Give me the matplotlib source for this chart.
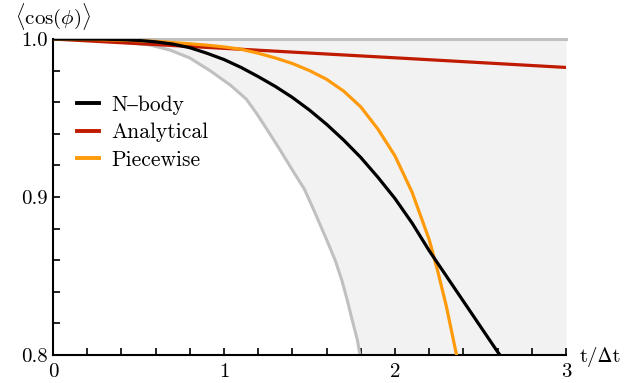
import numpy as np
import matplotlib
matplotlib.use("Agg")
import matplotlib.pyplot as plt
from matplotlib.ticker import MultipleLocator

plt.rcParams['font.family'] = ['cmr10', 'STIXGeneral', 'DejaVu Serif']
plt.rcParams['mathtext.fontset'] = 'cm'
plt.rcParams['axes.formatter.use_mathtext'] = True

# Lower edge of grey band (spread of N-body runs)
band_t = [0.0, 0.3, 0.567, 0.684, 0.80, 0.918, 1.035, 1.13, 1.19, 1.25, 1.327, 1.40, 1.47,
          1.52, 1.60, 1.65, 1.69, 1.72, 1.75, 1.78, 1.795]
band_lo = [1.0, 0.9993, 0.9962, 0.993, 0.988, 0.980, 0.971, 0.962, 0.953, 0.943, 0.930, 0.917, 0.905,
           0.893, 0.873, 0.860, 0.847, 0.835, 0.822, 0.8095, 0.800]
band_hi_t = [0.0, 3.0]
band_hi = [1.0, 1.0]

nbody_t = [0.0, 0.3, 0.4, 0.5, 0.6, 0.7, 0.8, 0.9, 1.0, 1.1, 1.2, 1.3, 1.4, 1.5, 1.6, 1.7,
           1.8, 1.9, 2.0, 2.1, 2.2, 2.3, 2.4, 2.5, 2.6, 2.614]
nbody = [1.0, 0.9999, 0.9996, 0.9991, 0.9982, 0.9968, 0.9945, 0.9910, 0.9870, 0.9820, 0.9762,
         0.9700, 0.9630, 0.9550, 0.9460, 0.9360, 0.9250, 0.9125, 0.8990, 0.8835, 0.8660,
         0.8500, 0.8340, 0.8180, 0.8020, 0.8000]

anal_t = [0.0, 1.0, 2.0, 3.0]
anal = [1.0, 0.9941, 0.9881, 0.9820]

piece_t = [0.0, 0.2, 0.4, 0.6, 0.8, 0.9, 1.0, 1.1, 1.2, 1.3, 1.4, 1.5, 1.6, 1.7, 1.8, 1.9,
           2.0, 2.1, 2.2, 2.25, 2.3, 2.36]
piece = [1.0, 0.9998, 0.9993, 0.9985, 0.9970, 0.9961, 0.9950, 0.9935, 0.9910, 0.9880, 0.9845,
         0.9800, 0.9745, 0.9670, 0.9570, 0.9430, 0.9260, 0.9030, 0.8730, 0.8530, 0.8310, 0.8000]

fig = plt.figure(figsize=(6.33, 3.83), dpi=100)
ax = fig.add_axes([53/633, 1-355/383, (566-53)/633, (355-39)/383])

tt = np.linspace(0, 3, 900)
lo_full = np.interp(tt, band_t, band_lo, right=0.8)
ax.fill_between(tt, lo_full, 1.0, color='#f2f2f2', lw=0, zorder=1)
ax.plot(band_t, band_lo, color='#c0c0c0', lw=2.2, zorder=2, solid_joinstyle='round')
ax.plot(band_hi_t, band_hi, color='#c0c0c0', lw=2.2, zorder=2, clip_on=False)

kw = dict(lw=2.3, solid_joinstyle='round')
ax.plot(nbody_t, nbody, color='black', label='N–body', zorder=4, **kw)
ax.plot(anal_t, anal, color='#c01a00', label='Analytical', zorder=3, **kw)
ax.plot(piece_t, piece, color='#ff9a0a', label='Piecewise', zorder=3, **kw)

ax.set_xlim(0, 3)
ax.set_ylim(0.8, 1.0)
ax.set_xticks([0, 1, 2, 3])
ax.set_xticklabels(['0', '1', '2', '3'])
ax.set_yticks([0.8, 0.9, 1.0])
ax.set_yticklabels(['0.8', '0.9', '1.0'])
ax.xaxis.set_minor_locator(MultipleLocator(0.2))
ax.yaxis.set_minor_locator(MultipleLocator(0.02))
ax.tick_params(which='both', direction='in', length=5, width=1.2, labelsize=15, pad=4)
ax.tick_params(axis='x', pad=6)
for s in ['top', 'right']:
    ax.spines[s].set_visible(False)
for s in ['left', 'bottom']:
    ax.spines[s].set_linewidth(1.5)

ax.text(-0.075, 1.072, r'$\langle\mathrm{cos}(\phi)\rangle$', transform=ax.transAxes, fontsize=15,
        ha='left', va='center')
ax.text(1.027, -0.005, 't/Δt', transform=ax.transAxes, fontsize=15, ha='left', va='center')

leg = ax.legend(loc='upper left', bbox_to_anchor=(0.03, 0.85), frameon=False, fontsize=15.5,
                handlelength=1.0, handletextpad=0.6, labelspacing=0.38, borderaxespad=0)
for h in leg.get_lines():
    h.set_linewidth(2.8)

fig.savefig('out.png', dpi=100)
